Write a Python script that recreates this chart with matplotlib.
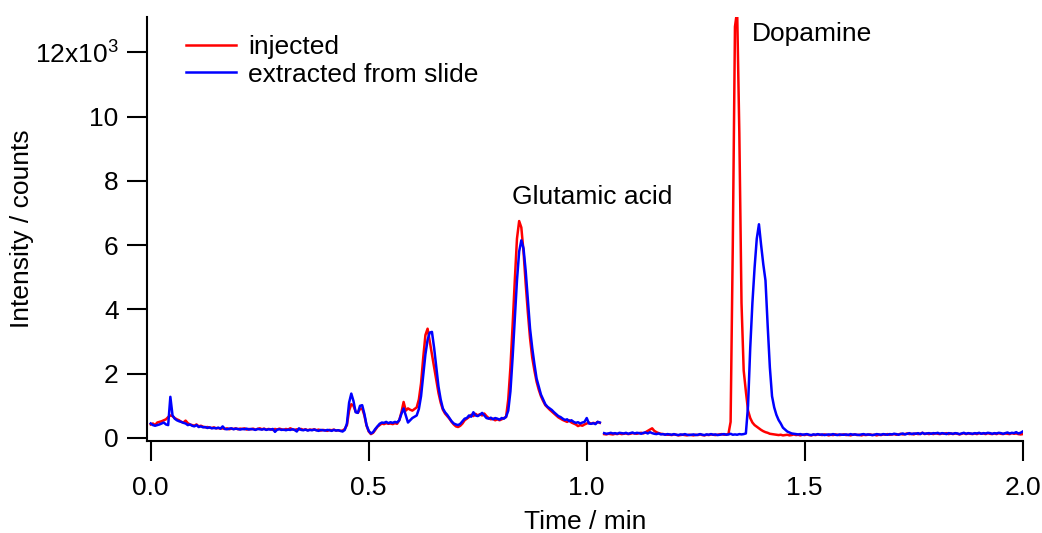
import numpy as np
import matplotlib
matplotlib.use("Agg")
import matplotlib.pyplot as plt

plt.rcParams["font.family"] = ["Liberation Sans", "DejaVu Sans"]
plt.rcParams["mathtext.fontset"] = "custom"
plt.rcParams["mathtext.rm"] = "Liberation Sans"
plt.rcParams["mathtext.it"] = "Liberation Sans:italic"

# Chromatogram traces, intensity in 10^3 counts, sampled every 0.005 min.
# Segment 1 runs 0.000-1.030 min, segment 2 runs 1.040-2.000 min.
seg1_start, seg1_stop = 0.000, 1.030
seg2_start, seg2_stop = 1.040, 2.000

injected_seg1 = [
    0.42, 0.45, 0.40, 0.48, 0.50, 0.52, 0.55, 0.58, 0.65, 0.70,
    0.68, 0.62, 0.58, 0.55, 0.50, 0.48, 0.54, 0.46, 0.42, 0.40,
    0.38, 0.42, 0.36, 0.38, 0.35, 0.33, 0.34, 0.32, 0.31, 0.33,
    0.30, 0.31, 0.29, 0.30, 0.28, 0.30, 0.27, 0.29, 0.28, 0.30,
    0.27, 0.29, 0.28, 0.30, 0.26, 0.28, 0.27, 0.29, 0.26, 0.28,
    0.30, 0.27, 0.29, 0.26, 0.28, 0.27, 0.25, 0.28, 0.26, 0.29,
    0.27, 0.25, 0.28, 0.26, 0.30, 0.27, 0.25, 0.27, 0.26, 0.28,
    0.25, 0.27, 0.24, 0.26, 0.25, 0.27, 0.24, 0.26, 0.23, 0.25,
    0.24, 0.22, 0.25, 0.24, 0.26, 0.23, 0.24, 0.22, 0.23, 0.28,
    0.40, 0.85, 1.05, 1.00, 0.82, 0.78, 0.90, 0.92, 0.70, 0.38,
    0.20, 0.12, 0.16, 0.25, 0.35, 0.40, 0.45, 0.43, 0.46, 0.44,
    0.45, 0.43, 0.46, 0.44, 0.55, 0.80, 1.12, 0.85, 0.92, 0.88,
    0.85, 0.90, 0.95, 1.20, 1.70, 2.50, 3.20, 3.40, 3.00, 2.60,
    2.20, 1.80, 1.40, 1.10, 0.88, 0.76, 0.68, 0.60, 0.50, 0.42,
    0.36, 0.34, 0.38, 0.45, 0.55, 0.60, 0.65, 0.72, 0.68, 0.75,
    0.70, 0.74, 0.70, 0.76, 0.68, 0.62, 0.58, 0.60, 0.55, 0.58,
    0.55, 0.58, 0.62, 0.65, 1.20, 2.20, 3.50, 4.90, 6.20, 6.75,
    6.55, 5.80, 4.80, 3.90, 3.10, 2.50, 2.10, 1.75, 1.50, 1.30,
    1.15, 1.02, 0.95, 0.88, 0.82, 0.76, 0.70, 0.64, 0.60, 0.56,
    0.53, 0.50, 0.55, 0.48, 0.45, 0.42, 0.37, 0.40, 0.38, 0.42,
    0.45, 0.48, 0.44, 0.47, 0.45, 0.50, 0.47,
]

injected_seg2 = [
    0.12, 0.11, 0.13, 0.12, 0.11, 0.13, 0.12, 0.14, 0.12, 0.13,
    0.14, 0.12, 0.13, 0.15, 0.14, 0.13, 0.15, 0.16, 0.14, 0.18,
    0.22, 0.26, 0.30, 0.22, 0.18, 0.15, 0.13, 0.12, 0.11, 0.10,
    0.10, 0.09, 0.11, 0.10, 0.08, 0.09, 0.10, 0.09, 0.08, 0.10,
    0.09, 0.08, 0.10, 0.09, 0.11, 0.09, 0.08, 0.10, 0.09, 0.11,
    0.10, 0.09, 0.10, 0.11, 0.12, 0.10, 0.11, 0.12, 0.50, 6.00,
    12.80, 13.30, 9.50, 4.20, 2.10, 1.45, 0.85, 0.62, 0.48, 0.40,
    0.35, 0.30, 0.25, 0.21, 0.18, 0.16, 0.13, 0.12, 0.11, 0.10,
    0.09, 0.10, 0.08, 0.09, 0.10, 0.08, 0.09, 0.11, 0.09, 0.10,
    0.08, 0.10, 0.09, 0.11, 0.09, 0.08, 0.10, 0.09, 0.11, 0.10,
    0.09, 0.11, 0.10, 0.08, 0.10, 0.09, 0.11, 0.10, 0.09, 0.10,
    0.11, 0.09, 0.10, 0.08, 0.10, 0.11, 0.09, 0.10, 0.08, 0.10,
    0.09, 0.10, 0.11, 0.09, 0.10, 0.08, 0.10, 0.09, 0.11, 0.10,
    0.12, 0.10, 0.11, 0.12, 0.10, 0.11, 0.13, 0.11, 0.12, 0.14,
    0.12, 0.13, 0.11, 0.14, 0.12, 0.13, 0.16, 0.12, 0.14, 0.12,
    0.14, 0.12, 0.15, 0.13, 0.12, 0.14, 0.13, 0.15, 0.12, 0.14,
    0.12, 0.14, 0.13, 0.11, 0.13, 0.15, 0.12, 0.14, 0.13, 0.12,
    0.14, 0.12, 0.15, 0.13, 0.14, 0.12, 0.15, 0.13, 0.12, 0.14,
    0.12, 0.15, 0.13, 0.12, 0.14, 0.13, 0.12, 0.15, 0.13, 0.14,
    0.12, 0.11, 0.12,
]

extracted_seg1 = [
    0.45, 0.40, 0.38, 0.40, 0.42, 0.45, 0.48, 0.42, 0.40, 1.28,
    0.70, 0.60, 0.55, 0.52, 0.50, 0.47, 0.45, 0.40, 0.42, 0.38,
    0.36, 0.40, 0.34, 0.36, 0.33, 0.34, 0.31, 0.33, 0.30, 0.31,
    0.30, 0.32, 0.29, 0.36, 0.28, 0.27, 0.29, 0.30, 0.27, 0.29,
    0.28, 0.26, 0.28, 0.27, 0.29, 0.26, 0.28, 0.27, 0.25, 0.28,
    0.27, 0.26, 0.28, 0.25, 0.27, 0.26, 0.28, 0.19, 0.26, 0.27,
    0.25, 0.26, 0.24, 0.26, 0.25, 0.27, 0.25, 0.20, 0.30, 0.25,
    0.24, 0.26, 0.23, 0.25, 0.24, 0.26, 0.24, 0.22, 0.25, 0.24,
    0.23, 0.25, 0.24, 0.22, 0.25, 0.23, 0.24, 0.22, 0.20, 0.25,
    0.45, 1.10, 1.38, 1.15, 0.80, 0.78, 1.00, 1.02, 0.75, 0.40,
    0.22, 0.14, 0.18, 0.28, 0.36, 0.44, 0.48, 0.47, 0.50, 0.46,
    0.49, 0.47, 0.50, 0.48, 0.55, 0.75, 0.92, 0.70, 0.48, 0.55,
    0.62, 0.66, 0.70, 0.90, 1.30, 1.95, 2.60, 3.05, 3.28, 3.30,
    2.80, 2.20, 1.60, 1.20, 0.92, 0.80, 0.72, 0.62, 0.52, 0.45,
    0.42, 0.40, 0.44, 0.52, 0.60, 0.62, 0.70, 0.66, 0.80, 0.70,
    0.68, 0.72, 0.78, 0.70, 0.62, 0.60, 0.63, 0.58, 0.62, 0.60,
    0.57, 0.62, 0.60, 0.66, 0.85, 1.45, 2.50, 3.70, 4.90, 5.80,
    6.15, 5.90, 5.20, 4.30, 3.40, 2.80, 2.30, 1.85, 1.60, 1.35,
    1.20, 1.05, 0.97, 0.92, 0.87, 0.80, 0.74, 0.68, 0.65, 0.60,
    0.56, 0.58, 0.52, 0.55, 0.50, 0.47, 0.49, 0.45, 0.48, 0.50,
    0.62, 0.45, 0.44, 0.46, 0.43, 0.50, 0.48,
]

extracted_seg2 = [
    0.15, 0.13, 0.14, 0.16, 0.14, 0.15, 0.13, 0.16, 0.15, 0.14,
    0.16, 0.13, 0.15, 0.17, 0.14, 0.16, 0.15, 0.13, 0.16, 0.17,
    0.14, 0.18, 0.15, 0.13, 0.12, 0.14, 0.11, 0.12, 0.10, 0.12,
    0.11, 0.10, 0.12, 0.10, 0.09, 0.11, 0.10, 0.12, 0.10, 0.09,
    0.10, 0.11, 0.09, 0.10, 0.12, 0.10, 0.09, 0.11, 0.10, 0.12,
    0.10, 0.11, 0.09, 0.10, 0.11, 0.12, 0.10, 0.11, 0.13, 0.10,
    0.11, 0.10, 0.12, 0.11, 0.12, 0.14, 1.00, 2.80, 4.20, 5.30,
    6.20, 6.65, 6.00, 5.40, 4.90, 3.50, 2.20, 1.30, 0.95, 0.72,
    0.56, 0.45, 0.32, 0.26, 0.20, 0.17, 0.14, 0.13, 0.12, 0.11,
    0.12, 0.10, 0.11, 0.12, 0.10, 0.09, 0.11, 0.10, 0.12, 0.10,
    0.11, 0.09, 0.10, 0.11, 0.10, 0.12, 0.10, 0.09, 0.11, 0.10,
    0.10, 0.11, 0.09, 0.12, 0.10, 0.11, 0.10, 0.09, 0.11, 0.12,
    0.10, 0.11, 0.10, 0.09, 0.10, 0.12, 0.11, 0.10, 0.12, 0.11,
    0.10, 0.12, 0.11, 0.13, 0.12, 0.10, 0.12, 0.14, 0.11, 0.13,
    0.15, 0.12, 0.14, 0.13, 0.15, 0.12, 0.16, 0.13, 0.14, 0.15,
    0.13, 0.15, 0.14, 0.16, 0.13, 0.15, 0.14, 0.12, 0.15, 0.14,
    0.13, 0.15, 0.14, 0.12, 0.14, 0.16, 0.13, 0.15, 0.14, 0.13,
    0.15, 0.14, 0.16, 0.13, 0.15, 0.14, 0.16, 0.15, 0.13, 0.15,
    0.14, 0.16, 0.15, 0.13, 0.15, 0.17, 0.14, 0.16, 0.15, 0.18,
    0.14, 0.16, 0.20,
]

series_labels = ["injected", "extracted from slide"]
series_colors = ["#ff0000", "#0000ff"]

x_ticks = [0.0, 0.5, 1.0, 1.5, 2.0]
x_tick_labels = ["0.0", "0.5", "1.0", "1.5", "2.0"]
y_ticks = [0, 2000, 4000, 6000, 8000, 10000, 12000]
y_tick_labels = ["0", "2", "4", "6", "8", "10", r"12x10$^{3}$"]

peak_labels = ["Glutamic acid", "Dopamine"]
peak_label_pos = [(0.829, 7280), (1.378, 12350)]


def seg_times(start, stop, values):
    return np.linspace(start, stop, len(values))


fs = 19
fig = plt.figure(figsize=(10.42, 5.33), dpi=100)
ax = fig.add_axes([0.1411, 0.1726, 0.8404, 0.7955])

traces = [(injected_seg1, injected_seg2), (extracted_seg1, extracted_seg2)]
for (s1, s2), label, color in zip(traces, series_labels, series_colors):
    t = np.concatenate([seg_times(seg1_start, seg1_stop, s1), [np.nan],
                        seg_times(seg2_start, seg2_stop, s2)])
    v = np.concatenate([np.array(s1) * 1000, [np.nan], np.array(s2) * 1000])
    ax.plot(t, v, color=color, lw=1.8, label=label)

ax.set_xlim(-0.0085, 2.0)
ax.set_ylim(-95, 13100)

for side in ("top", "right"):
    ax.spines[side].set_visible(False)
for side in ("left", "bottom"):
    ax.spines[side].set_linewidth(1.5)

ax.set_xticks(x_ticks)
ax.set_xticklabels(x_tick_labels)
ax.set_yticks(y_ticks)
ax.set_yticklabels(y_tick_labels)
ax.tick_params(axis="both", which="major", direction="out", length=14.5,
               width=1.5, labelsize=fs, color="black")
ax.tick_params(axis="x", pad=11)
ax.tick_params(axis="y", pad=6)

ax.set_xlabel("Time / min", fontsize=fs, labelpad=7)
ax.set_ylabel("Intensity / counts", fontsize=fs, labelpad=1)

for text, (tx, ty) in zip(peak_labels, peak_label_pos):
    ax.text(tx, ty, text, fontsize=fs, ha="left", va="baseline")

ax.legend(loc="upper left", bbox_to_anchor=(0.0236, 1.0), frameon=False,
          fontsize=fs, handlelength=1.9, handletextpad=0.45,
          labelspacing=0.12, borderpad=0.0, borderaxespad=0.7)

fig.savefig("out.png", dpi=100)
